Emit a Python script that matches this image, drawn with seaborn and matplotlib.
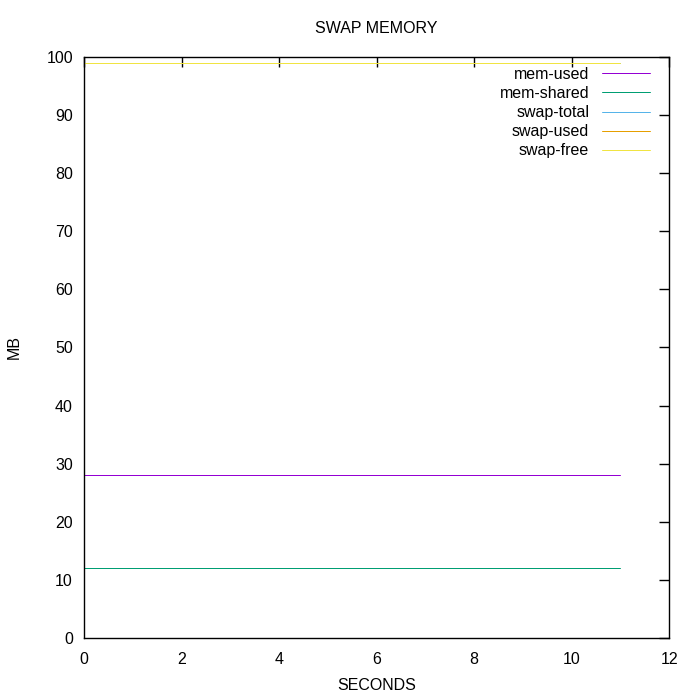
import matplotlib
matplotlib.use("Agg")
import matplotlib.pyplot as plt
import seaborn as sns
import pandas as pd

seconds = [0, 1, 2, 3, 4, 5, 6, 7, 8, 9, 10, 11]
mem_used = [28] * 12
mem_shared = [12] * 12
swap_total = [99] * 12
swap_used = [0] * 12
swap_free = [99] * 12

series_names = ["mem-used", "mem-shared", "swap-total", "swap-used", "swap-free"]
series_vals = [mem_used, mem_shared, swap_total, swap_used, swap_free]
colors = ["#9400d3", "#009e73", "#56b4e9", "#e69f00", "#f0e442"]

rows = []
for name, vals in zip(series_names, series_vals):
    for s, v in zip(seconds, vals):
        rows.append({"SECONDS": s, "MB": v, "series": name})
df = pd.DataFrame(rows)

sns.set_theme(style="white")
plt.rcParams['font.family'] = ['Liberation Sans', 'DejaVu Sans']
plt.rcParams['text.color'] = 'black'
plt.rcParams['axes.labelcolor'] = 'black'

fig = plt.figure(figsize=(7, 7), dpi=100)
ax = fig.add_axes([0.12, 0.0886, 0.836, 0.83])

sns.lineplot(data=df, x="SECONDS", y="MB", hue="series", hue_order=series_names,
             palette=colors, linewidth=0.72, ax=ax, legend=True, estimator=None)
for i, ln in enumerate(ax.get_lines()):
    ln.set_zorder(2 + i)
    ln.set_snap(True)

ax.set_xlim(0, 12)
ax.set_ylim(0, 100)
ax.set_xticks(range(0, 13, 2))
ax.set_yticks(range(0, 101, 10))
ax.tick_params(direction="in", length=7, width=1, top=True, right=True,
               labelsize=11.5, colors="black", pad=8)
ax.tick_params(axis="x", pad=10)
for sp in ax.spines.values():
    sp.set_color("black")
    sp.set_linewidth(1)
    sp.set_zorder(10)
ax.set_title("SWAP MEMORY", fontsize=11.5, pad=17, color="black")
ax.set_xlabel("SECONDS", fontsize=11.5, labelpad=8)
ax.set_ylabel("MB", fontsize=11.5, labelpad=18)

leg = ax.legend(loc="upper right", frameon=False, markerfirst=False, fontsize=11.5,
                handlelength=3.0, handletextpad=0.8, labelspacing=0.26,
                borderaxespad=0.0, borderpad=0.0, bbox_to_anchor=(0.967, 0.983))
for t in leg.get_texts():
    t.set_ha("right")
    t.set_color("black")
for h in leg.get_lines():
    h.set_linewidth(0.72)
    h.set_snap(True)
leg._legend_box.align = "right"

fig.savefig("out.png", dpi=100)
